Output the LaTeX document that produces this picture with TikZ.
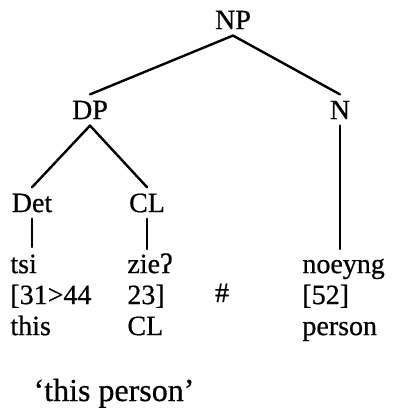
\documentclass[tikz,border=0pt]{standalone}
\usepackage{fontspec}
\setmainfont{Liberation Serif}[FakeBold=0.6]
\usepackage{tikz}
\usetikzlibrary{positioning}

\tikzset{
  lbl/.style={inner sep=3pt, font=\fontsize{14}{15.5}\selectfont},
  col/.style={inner sep=0pt, anchor=north west, align=left, font=\fontsize{14}{15.5}\selectfont},
  branch/.style={line width=1.2pt, line cap=round}
}

\begin{document}
\begin{tikzpicture}[x=0.5pt, y=-0.5pt]
	\useasboundingbox (0,0) rectangle (392,410);
	% tree labels
	\node[lbl] (np) at (233,20) {NP};
	\node[lbl] (dp) at (90,110) {DP};
	\node[lbl] (n) at (340,110) {N};
	\node[lbl] (det) at (32,203) {Det};
	\node[lbl] (cl) at (147,203) {CL};
	% words
	\node[col] (tsi) at (10,251) {\strut tsi\\{[31>44}\\this};
	\node[col] (zie) at (127,251) {\strut zieʔ\\{23]}\\CL};
	\node[col] (noeyng) at (302,251) {\strut noeyng\\{[52]}\\person};
	\node[lbl, anchor=base] (hash) at (222,302) {\#};
	\node[lbl, anchor=base, font=\fontsize{16}{18}\selectfont] (gloss) at (114,401) {‘this person’};
	% branches
	\draw[branch] (np.south) -- (dp.north);
	\draw[branch] (np.south) -- (n.north);
	\draw[branch] (dp.south) -- (det.north);
	\draw[branch] (dp.south) -- (cl.north);
	\draw[branch, shorten >=2pt] (det.south) -- (det.south |- tsi.north);
	\draw[branch, shorten >=1pt] (cl.south) -- (cl.south |- zie.north);
	\draw[branch, shorten >=1pt] (n.south) -- (n.south |- noeyng.north);
\end{tikzpicture}
\end{document}
